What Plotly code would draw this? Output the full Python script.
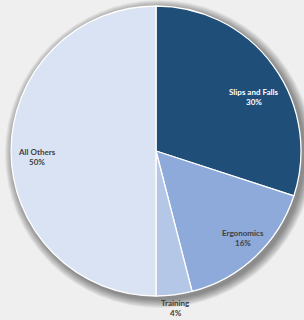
import math
import plotly.graph_objects as go

categories = ["Slips and Falls", "Ergonomics", "Training", "All Others"]
values = [30, 16, 4, 50]
percent_labels = ["30%", "16%", "4%", "50%"]

colors = ["#1f4e79", "#8eaadb", "#b4c7e7", "#dae3f3"]
text_colors = ["#ffffff", "#404040", "#404040", "#404040"]
# label placement: radial fraction of the radius and angular tweak (deg)
label_radius = [0.77, 0.85, 1.09, 0.82]
label_angle_tweak = [7, -1.6, 0, -3]

W, H = 304, 320
ML, MR, MT, MB = 11, 3, 5, 23
pw, ph = W - ML - MR, H - MT - MB
R = min(pw, ph) / 2.0

fig = go.Figure(go.Pie(
    labels=categories,
    values=values,
    sort=False,
    direction="clockwise",
    rotation=0,
    marker=dict(colors=colors, line=dict(color="#ffffff", width=1.3)),
    textinfo="none",
    showlegend=False,
    hoverinfo="label+percent",
))

# soft drop shadow behind the pie (stacked translucent discs)
shapes = []
for grow in range(9, 0, -1):
    off = 3
    cx = 0.5 + off / pw
    cy = 0.5 - off / ph
    rr = R + grow
    shapes.append(dict(
        type="circle", xref="paper", yref="paper", layer="below",
        x0=cx - rr / pw, x1=cx + rr / pw, y0=cy - rr / ph, y1=cy + rr / ph,
        fillcolor="rgba(0,0,0,0.055)", line=dict(width=0),
    ))

annotations = []
total = sum(values)
cum = 0
for cat, v, pct, col, f, tw in zip(categories, values, percent_labels,
                                  text_colors, label_radius, label_angle_tweak):
    mid = math.radians((cum + v / 2) / total * 360 + tw)
    cum += v
    x = 0.5 + f * R * math.sin(mid) / pw
    y = 0.5 + f * R * math.cos(mid) / ph
    for txt, ys in ((cat, 5), (pct, -5)):
        annotations.append(dict(
            x=x, y=y, xref="paper", yref="paper", text=f"<b>{txt}</b>",
            showarrow=False, yshift=ys, xanchor="center", yanchor="middle",
            font=dict(family="Lato, Open Sans, sans-serif", size=8, color=col),
        ))

fig.update_layout(
    width=W, height=H,
    margin=dict(l=ML, r=MR, t=MT, b=MB),
    paper_bgcolor="#efefef",
    plot_bgcolor="#efefef",
    shapes=shapes,
    annotations=annotations,
)

fig.write_html(
    "out.html",
    config={"displayModeBar": False},
    post_script="document.body.style.margin='0px';document.body.style.background='#efefef';",
)
